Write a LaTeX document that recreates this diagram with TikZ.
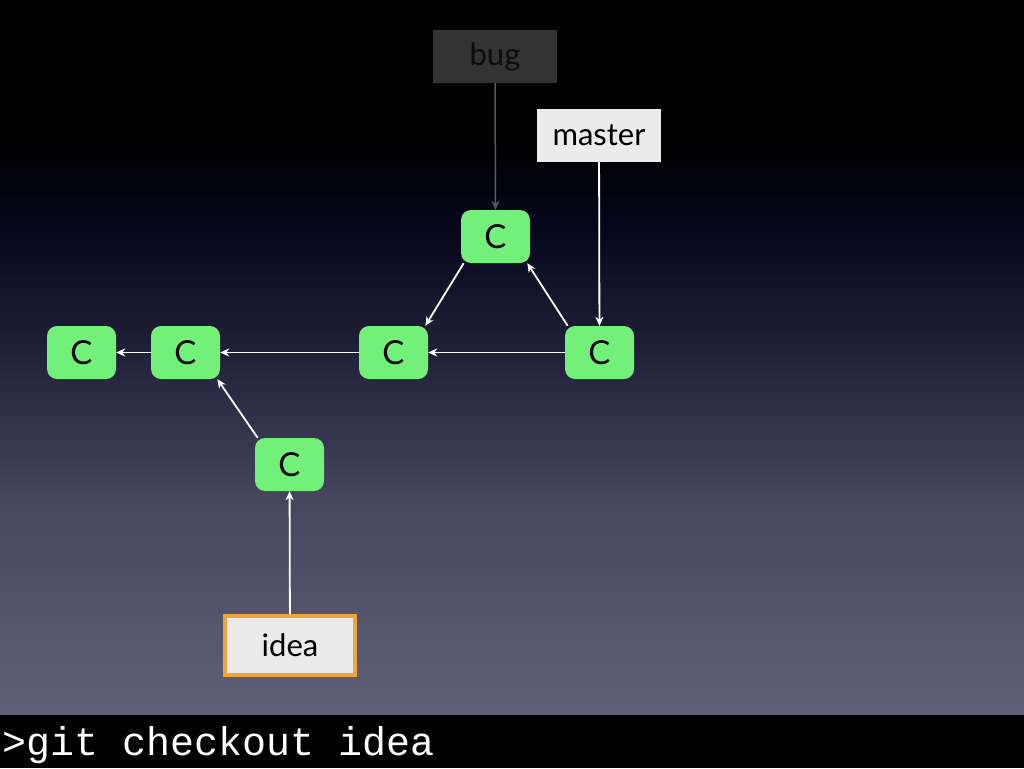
\documentclass[tikz,border=0pt]{standalone}
\usepackage{fontspec}
\setmainfont{Lato}
\setmonofont{Liberation Mono}
\usetikzlibrary{arrows.meta}
\definecolor{commitgreen}{RGB}{114,240,122}
\definecolor{bugbox}{RGB}{51,51,51}
\definecolor{labelbox}{RGB}{235,235,235}
\definecolor{ideaedge}{RGB}{240,164,60}
\definecolor{bgzero}{RGB}{96,96,120}
\definecolor{bgone}{RGB}{70,70,94}
\definecolor{bgtwo}{RGB}{32,32,56}
\definecolor{bgthree}{RGB}{6,6,28}
\pgfdeclareverticalshading{slidebg}{100bp}{color(0bp)=(bgzero); color(25bp)=(bgzero); color(40bp)=(bgone); color(50.5bp)=(bgtwo); color(59bp)=(bgthree); color(65bp)=(black); color(100bp)=(black)}
\tikzset{
  commit/.style={fill=commitgreen,rounded corners=10pt,minimum width=69pt,minimum height=53pt,inner sep=0pt,font=\fontsize{33}{36}\selectfont},
  branch/.style={minimum width=124pt,minimum height=53pt,inner sep=0pt,font=\fontsize{31}{36}\selectfont},
  link/.style={->,white,line width=1.8pt},
  >={Stealth[length=9pt,width=8pt]}
}
\begin{document}
\begin{tikzpicture}[x=1pt,y=-1pt]
\useasboundingbox (0,0) rectangle (1024,768);
\fill[shading=slidebg] (0,0) rectangle (1024,715);
\fill[black] (0,715) rectangle (1024,768);
\node (bug) [branch,fill=bugbox,text=black!95] at (495,56.5) {bug};
\node (master) [branch,fill=labelbox] at (599,135.5) {master};
\node (top) [commit] at (495.5,236.5) {C};
\node (c1) [commit] at (81.5,352.5) {C};
\node (c2) [commit] at (185.5,352.5) {C};
\node (c3) [commit] at (393.5,352.5) {C};
\node (c4) [commit] at (599.5,352.5) {C};
\node (ic) [commit] at (289.5,464.5) {C};
\node (idea) [branch,fill=labelbox,draw=ideaedge,line width=4pt,minimum width=130pt,minimum height=59pt] at (290,645.5) {idea};
\draw [->,black!65,line width=1.5pt] (bug) -- (top);
\draw [link] (master) -- (c4);
\draw [link] (c4.140) -- (top.-40);
\draw [link] (top.-140) -- (c3.40);
\draw [link] (c4) -- (c3);
\draw [link] (c3) -- (c2);
\draw [link] (c2) -- (c1);
\draw [link] (ic.140) -- (c2.-40);
\draw [link] (idea) -- (ic);
\node (cmd) [anchor=base west,white,inner sep=0pt,font=\ttfamily\fontsize{40}{48}\selectfont] at (2,755) {>git checkout idea};
\end{tikzpicture}
\end{document}
